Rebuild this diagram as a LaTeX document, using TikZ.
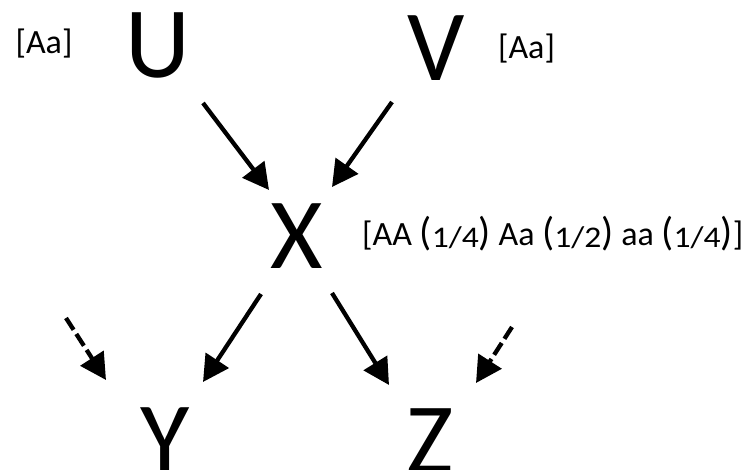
\documentclass[tikz,border=0pt]{standalone}
\usepackage{fontspec}
\setmainfont{Carlito}
\usetikzlibrary{arrows.meta,calc}
\newcommand{\bigpar}[1]{{\fontsize{40}{40}\selectfont #1}}
\newcommand{\smallfr}[1]{\bigpar{(}\raisebox{-2pt}{\fontsize{30}{30}\selectfont\scalebox{1.12}[1]{#1}}\bigpar{)}}
\begin{document}
\begin{tikzpicture}[x=1pt,y=-1pt,
  letter/.style={inner sep=0pt, anchor=base, font=\fontsize{101}{110}\selectfont},
  gen/.style={inner sep=0pt, font=\fontsize{34}{40}\selectfont},
  arr/.style={line width=4.3pt, -{Triangle[length=26pt,width=27pt]}},
  darr/.style={arr, dash pattern=on 14pt off 5pt}]
\useasboundingbox (0,0) rectangle (747,469);
% main letters
\node[letter] (U) at (158,77) {U};
\node[letter] (V) at (436,80) {V};
\node[letter] (X) at (296.5,268) {X};
\node[letter] (Y) at (165,472) {Y};
\node[letter] (Z) at (430,473) {Z};
% genotype labels
\node[gen, anchor=base] (gU) at (44,53) {[Aa]};
\node[gen, anchor=base] (gV) at (526.5,58) {[Aa]};
\node[gen, anchor=base west] (gX) at (362,245) {[AA \smallfr{1/4} Aa \smallfr{1/2} aa \smallfr{1/4}]};
% connector ends
\coordinate (Uout) at (203,103);
\coordinate (XinU) at (269,190);
\coordinate (Vout) at (392,102);
\coordinate (XinV) at (332,187);
\coordinate (XoutY) at (261,294);
\coordinate (Yin) at (203,382);
\coordinate (XoutZ) at (332,293);
\coordinate (Zin) at (389,385);
\coordinate (Yext) at (66,318);
\coordinate (YinExt) at (106,380);
\coordinate (Zext) at (512,327);
\coordinate (ZinExt) at (476,383);
% connectors
\draw[arr] (Uout) -- (XinU);
\draw[arr] (Vout) -- (XinV);
\draw[arr] (XoutY) -- (Yin);
\draw[arr] (XoutZ) -- (Zin);
\draw[darr] (Yext) -- (YinExt);
\draw[darr] (Zext) -- (ZinExt);
\end{tikzpicture}
\end{document}
